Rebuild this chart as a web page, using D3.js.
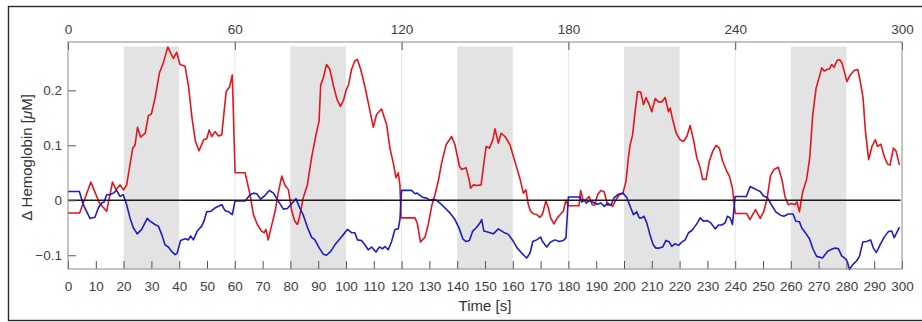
<!DOCTYPE html>
<html>
<head>
<meta charset="utf-8">
<script src="https://cdn.jsdelivr.net/npm/d3@7"></script>
<style>
  body { margin: 0; background: #fff; }
  svg { display: block; font-family: "Liberation Sans", Arial, sans-serif; }
</style>
</head>
<body>
<svg width="922" height="322"></svg>
<script>
// stimulation blocks [start, end] in s
var blocks = [[20, 40], [80, 100], [140, 160], [200, 220], [260, 280]];
var gridTimes = [60, 120, 180, 240];
var topTicks = [0, 60, 120, 180, 240, 300];
var bottomTicks = d3.range(0, 301, 10);
var yTicks = [-0.1, 0, 0.1, 0.2];

// oxy-hemoglobin (red), [time s, value uM]
var oxy = [[0,-0.023],[4.2,-0.023],[8.2,0.033],[11.3,-0.005],[13.9,-0.02],[16,0.033],[17.3,0.019],[18.7,0.028],[20,0.019],[21.1,0.028],
  [22.3,0.065],[23.3,0.095],[24.1,0.1],[25,0.133],[26.1,0.115],[27.8,0.122],[28.9,0.154],[30,0.157],[31.3,0.186],[32.9,0.232],
  [34.3,0.25],[35.9,0.279],[37.2,0.265],[37.9,0.258],[39.1,0.269],[40.3,0.247],[42.1,0.244],[43.4,0.206],[44.6,0.15],[45.8,0.108],
  [47.1,0.09],[48.8,0.11],[49.9,0.112],[50.8,0.128],[51.7,0.116],[52.9,0.125],[54.1,0.117],[55.3,0.119],[56.9,0.198],[58.1,0.206],
  [59.1,0.228],[60.1,0.05],[63.7,0.05],[65.5,0.01],[66.7,-0.026],[68.1,-0.044],[69.6,-0.056],[70.6,-0.059],[71.2,-0.053],[72,-0.072],
  [73.2,-0.047],[74.5,-0.02],[75.6,0.013],[76.9,0.044],[78,0.028],[79.3,0.019],[80.5,-0.02],[81.6,-0.038],[82.5,-0.044],[83.2,-0.032],
  [84.6,0.004],[86.1,0.028],[87.6,0.077],[89.2,0.119],[90.3,0.144],[90.9,0.21],[91.8,0.222],[93,0.247],[94.2,0.238],[95.4,0.21],
  [96.8,0.183],[98,0.171],[99.1,0.182],[100.1,0.201],[100.9,0.21],[102,0.238],[103.2,0.254],[104.1,0.256],[105.3,0.238],[106.8,0.207],
  [108.4,0.168],[109.8,0.133],[111,0.156],[112.8,0.166],[114.6,0.138],[115.8,0.095],[117,0.068],[118,0.041],[118.8,0.05],[119.4,0.028],
  [119.8,-0.032],[124.8,-0.032],[125.6,-0.041],[126.8,-0.076],[128.4,-0.067],[129.6,-0.044],[130.8,-0.011],[132,0.01],[133.2,0.035],[134.4,0.068],
  [136,0.101],[138,0.116],[139.2,0.101],[140.8,0.062],[141.6,0.056],[143.2,0.059],[144.4,0.035],[144.8,0.022],[145.8,0.028],[147.2,0.027],
  [148.6,0.028],[149.4,0.06],[150.4,0.098],[151.6,0.095],[152.8,0.11],[153.6,0.13],[154.8,0.104],[155.8,0.122],[157.2,0.116],[159,0.101],
  [160.2,0.08],[161.6,0.056],[162.8,0.035],[163.8,0.013],[164.7,0.019],[165.6,-0.008],[166.4,-0.02],[167.6,-0.025],[168.6,-0.026],[169.8,-0.031],
  [170.7,-0.025],[171.9,-0.001],[172.8,-0.014],[173.6,-0.032],[174.8,-0.043],[176,-0.032],[177.6,-0.023],[178.2,-0.02],[179.1,0],[180,-0.01],
  [183.8,-0.01],[184.4,0.018],[185.2,0.001],[186.2,0],[187.4,0.007],[188.6,-0.008],[189.4,-0.009],[190.5,0.01],[191.7,0.018],[192.9,0.015],
  [194.1,-0.009],[195.3,-0.008],[195.9,-0.011],[197.1,0.001],[198.3,0.01],[199.6,0.013],[200.7,0.034],[201.5,0.074],[202.2,0.101],[203.1,0.119],
  [204,0.162],[204.9,0.198],[206,0.197],[207,0.174],[207.9,0.187],[209.1,0.174],[210,0.161],[211.2,0.185],[212.4,0.179],[213.6,0.179],
  [214.8,0.187],[216,0.161],[216.6,0.168],[217.5,0.147],[218.8,0.122],[220.2,0.11],[221.4,0.107],[222.6,0.116],[223.8,0.136],[225,0.11],
  [226.2,0.077],[227.4,0.059],[228.3,0.038],[229.5,0.038],[230.7,0.071],[231.9,0.089],[233.1,0.1],[234.3,0.095],[235.5,0.071],[236.7,0.056],
  [237.9,0.044],[239,0.022],[240,-0.024],[244.1,-0.024],[245.3,-0.035],[247.3,-0.017],[249,-0.033],[250.3,-0.02],[251.5,0.004],[252.7,0.045],
  [253.9,0.056],[255.5,0.06],[256.8,0.038],[257.9,0.007],[259.1,-0.008],[260.3,-0.006],[261.5,-0.008],[262.2,-0.003],[263.1,-0.021],[264.3,0.016],
  [265.7,0.038],[266.8,0.077],[267.9,0.156],[269.1,0.204],[270.3,0.225],[271.1,0.241],[272,0.235],[273,0.238],[273.9,0.239],[274.7,0.247],
  [275.6,0.242],[276.6,0.254],[277.6,0.256],[278.4,0.25],[279.2,0.235],[280.2,0.216],[281.4,0.228],[282.8,0.236],[284.1,0.238],[285,0.216],
  [286,0.186],[286.8,0.128],[288,0.074],[289.2,0.098],[290.4,0.11],[291.2,0.098],[292.4,0.102],[293.6,0.08],[294.8,0.066],[295.7,0.064],
  [296.9,0.095],[297.9,0.089],[299.1,0.064]];

// deoxy-hemoglobin (blue)
var deoxy = [[0,0.016],[4.1,0.016],[5.5,-0.008],[7.9,-0.033],[9.7,-0.031],[10.9,-0.014],[12.1,-0.005],[13,-0.003],[13.9,0.01],[15.1,0.01],
  [16.3,0.013],[17.5,0.018],[18.7,0.007],[19.9,0.01],[21.1,-0.008],[22.3,-0.032],[23.5,-0.05],[24.9,-0.061],[26.5,-0.053],[28.5,-0.033],
  [29.5,-0.038],[31.3,-0.044],[32.5,-0.047],[33.7,-0.062],[34.9,-0.081],[36.1,-0.085],[37.3,-0.093],[38.5,-0.099],[39.3,-0.096],[40.5,-0.073],
  [42.1,-0.07],[43.3,-0.072],[44.1,-0.065],[45.1,-0.072],[46.5,-0.056],[48.1,-0.047],[48.9,-0.038],[49.9,-0.021],[51.4,-0.02],[52.9,-0.014],
  [54.1,-0.011],[55.3,-0.008],[56.5,-0.019],[57.8,-0.021],[59.1,-0.026],[60.1,-0.001],[63.8,-0.001],[65.5,0.01],[66.7,0.013],[67.9,0.012],
  [69.3,0.002],[70.9,0.009],[72.4,0.018],[73.9,0.013],[75.7,-0.002],[77.5,-0.016],[78.9,-0.015],[80.5,-0.006],[82,0.003],[83.2,-0.012],
  [84.7,-0.028],[86.2,-0.05],[87.6,-0.067],[88.8,-0.072],[90.4,-0.087],[91.8,-0.098],[93,-0.1],[94.5,-0.093],[96,-0.081],[97.8,-0.07],
  [99.1,-0.062],[100.5,-0.053],[102,-0.059],[103.2,-0.059],[104.1,-0.072],[105.6,-0.073],[106.8,-0.081],[108,-0.09],[109.2,-0.085],[110.8,-0.094],
  [112,-0.085],[113.2,-0.088],[114,-0.084],[115.2,-0.09],[116.4,-0.075],[117.6,-0.053],[118.8,-0.052],[119.4,-0.035],[120,0.018],[123.6,0.018],
  [124.8,0.012],[125.6,0.013],[126.6,0.009],[127.8,0.005],[129,0.004],[130.2,0],[131.4,0.002],[132.6,0],[133.8,-0.005],[135.6,-0.014],
  [137.4,-0.023],[139.2,-0.035],[140.8,-0.052],[142,-0.07],[143.2,-0.075],[144.4,-0.073],[145.6,-0.056],[147,-0.049],[148.2,-0.041],[148.8,-0.035],
  [149.6,-0.056],[151.2,-0.058],[153,-0.061],[154.8,-0.052],[156.6,-0.058],[158.4,-0.062],[160,-0.073],[161.6,-0.087],[163.2,-0.096],[165,-0.105],
  [166.2,-0.096],[167.2,-0.075],[168.6,-0.072],[170,-0.067],[170.7,-0.075],[172.2,-0.085],[173.6,-0.076],[175.2,-0.072],[176.7,-0.075],[178.2,-0.073],
  [179.1,-0.069],[180,0.006],[184.2,0.006],[184.8,-0.003],[185.8,0],[186.4,-0.005],[187.4,-0.001],[188.6,-0.003],[190.5,-0.007],[191.7,-0.005],
  [192.9,-0.011],[194.1,-0.005],[195.3,-0.009],[196.5,0.005],[197.7,0.01],[198.6,0.012],[199.6,0.013],[201,0.005],[202.2,-0.011],[203.4,-0.026],
  [204.6,-0.021],[205.5,-0.032],[206.4,-0.032],[207.2,-0.029],[208.2,-0.041],[209.3,-0.062],[210.5,-0.081],[211.5,-0.087],[212.7,-0.087],[213.9,-0.085],
  [215.1,-0.073],[216.3,-0.076],[217.2,-0.084],[218.4,-0.079],[219.6,-0.082],[220.8,-0.076],[222,-0.072],[223.2,-0.059],[224.4,-0.055],[225.6,-0.047],
  [226.4,-0.041],[227.4,-0.032],[228.6,-0.038],[230,-0.037],[231.2,-0.041],[232.8,-0.052],[234,-0.045],[235.2,-0.045],[236.4,-0.041],[237.2,-0.029],
  [238.2,-0.032],[239,-0.044],[240,0.007],[244,0.007],[245.4,0.025],[246.6,0.022],[247.8,0.019],[249,0.016],[250.2,0.008],[251.6,0.005],
  [253,-0.008],[254.6,-0.021],[256.3,-0.027],[257.5,-0.029],[259.1,-0.025],[260.8,-0.025],[261.8,-0.038],[263.1,-0.039],[263.9,-0.05],[265.1,-0.058],
  [266.7,-0.07],[268.1,-0.09],[269.3,-0.102],[271.4,-0.105],[273.2,-0.093],[274.7,-0.089],[275.9,-0.087],[277.1,-0.088],[278.3,-0.101],[279.6,-0.106],
  [280.3,-0.111],[281.1,-0.126],[282.3,-0.117],[283.7,-0.11],[284.7,-0.102],[285.9,-0.076],[287.3,-0.075],[288.7,-0.072],[289.7,-0.087],[290.8,-0.095],
  [292.1,-0.081],[293.6,-0.067],[295.1,-0.057],[296.3,-0.056],[297.2,-0.068],[298.1,-0.059],[299.1,-0.049]];

var svg = d3.select("svg"),
    margin = {top: 42, right: 20, bottom: 53, left: 68},
    width = +svg.attr("width") - margin.left - margin.right,
    height = +svg.attr("height") - margin.top - margin.bottom;

// figure frame (cropped on right)
svg.append("rect")
    .attr("x", 8.5).attr("y", 6.5)
    .attr("width", 940).attr("height", 314)
    .attr("fill", "none").attr("stroke", "#2a2a2a").attr("stroke-width", 1.4);

var g = svg.append("g").attr("transform", "translate(" + margin.left + "," + margin.top + ")");

var x = d3.scaleLinear().domain([0, 300]).range([0, width]);
var y = d3.scaleLinear().domain([-0.125, 0.288]).range([height, 0]);

g.selectAll(".block")
  .data(blocks)
  .enter().append("rect")
    .attr("x", function(d) { return x(d[0]); })
    .attr("width", function(d) { return x(d[1]) - x(d[0]); })
    .attr("y", y(0.28))
    .attr("height", height - y(0.28))
    .attr("fill", "#e3e3e3");

g.selectAll(".grid")
  .data(gridTimes)
  .enter().append("line")
    .attr("x1", x).attr("x2", x)
    .attr("y1", 0).attr("y2", height)
    .attr("stroke", "#e6e6e6");

var line = d3.line()
    .x(function(d) { return x(d[0]); })
    .y(function(d) { return y(d[1]); });

g.append("path").datum(oxy)
    .attr("d", line).attr("fill", "none")
    .attr("stroke", "#e3151d").attr("stroke-width", 1.6).attr("stroke-linejoin", "round");

g.append("path").datum(deoxy)
    .attr("d", line).attr("fill", "none")
    .attr("stroke", "#1c1cc9").attr("stroke-width", 1.6).attr("stroke-linejoin", "round");

g.append("line")
    .attr("x1", x(0)).attr("x2", x(299.5))
    .attr("y1", y(0)).attr("y2", y(0))
    .attr("stroke", "#1a1a1a").attr("stroke-width", 1.5);

function styleAxis(sel) {
  sel.select(".domain").remove();
  sel.selectAll(".tick line").attr("stroke", "#555");
  sel.selectAll(".tick text").attr("fill", "#404040").style("font-size", "13.5px");
}

g.append("g")
    .attr("transform", "translate(0," + height + ")")
    .call(d3.axisBottom(x).tickValues(bottomTicks).tickSizeInner(-8).tickSizeOuter(0).tickPadding(12))
    .call(styleAxis);

g.append("g")
    .call(d3.axisTop(x).tickValues(topTicks).tickSizeInner(-8).tickSizeOuter(0).tickPadding(8))
    .call(styleAxis);

g.append("g")
    .call(d3.axisLeft(y).tickValues(yTicks).tickSizeInner(-8).tickSizeOuter(0).tickPadding(6)
      .tickFormat(function(d) { return d === 0 ? "0" : d3.format(".1f")(d); }))
    .call(styleAxis);

// plot box
g.append("rect")
    .attr("x", 0).attr("y", 0).attr("width", width).attr("height", height)
    .attr("fill", "none").attr("stroke", "#8a8a8a").attr("stroke-width", 1);

g.append("text")
    .attr("x", width / 2).attr("y", height + 42)
    .attr("text-anchor", "middle")
    .attr("fill", "#333").style("font-size", "15px")
    .text("Time [s]");

var ylab = svg.append("text")
    .attr("transform", "translate(32," + (margin.top + height / 2 + 2) + ") rotate(-90)")
    .attr("text-anchor", "middle")
    .attr("fill", "#333").style("font-size", "15px");
ylab.append("tspan").text("Δ Hemoglobin [");
ylab.append("tspan").style("font-style", "italic").text("μ");
ylab.append("tspan").text("M]");
</script>
</body>
</html>
